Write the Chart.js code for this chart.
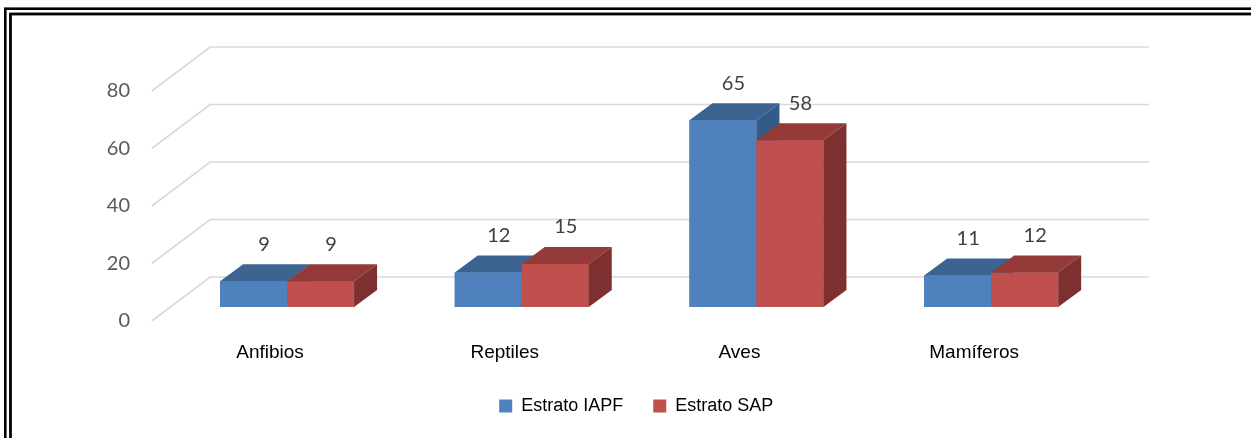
<!DOCTYPE html>
<html>
<head>
<meta charset="utf-8">
<script src="https://cdn.jsdelivr.net/npm/chart.js@4"></script>
<style>
  html, body { margin: 0; padding: 0; background: #ffffff; }
  #wrap { position: relative; width: 1251px; height: 438px; }
</style>
</head>
<body>
<div id="wrap"><canvas id="chart"></canvas></div>
<script>
// Species counts per taxonomic group and sampling stratum
const categories = ['Anfibios', 'Reptiles', 'Aves', 'Mamíferos'];
const seriesNames = ['Estrato IAPF', 'Estrato SAP'];
const iapfValues = [9, 12, 65, 11];
const sapValues = [9, 15, 58, 12];
const yMin = 0;
const yMax = 80;
const yStep = 20;

// Face colours: front, top, side
const palette = [
  { front: '#4F81BD', top: '#3D6491', side: '#345B87' },
  { front: '#C0504D', top: '#943B39', side: '#7D302F' }
];

// Oblique depth of a bar, and the wall/floor planes relative to the bar front plane
const DEPTH = { dx: 23, dy: -17 };
const WALL = { dx: 40.5, dy: -30 };      // back wall
const FLOOR_FRONT = { dx: -18, dy: 14 }; // front edge of the floor
const LEGEND_SHIFT = 82;

const perspectiveGrid = {
  id: 'perspectiveGrid',
  beforeDatasetsDraw(chart) {
    const { ctx, chartArea } = chart;
    const y = chart.scales.y;
    ctx.save();
    ctx.strokeStyle = '#D9D9D9';
    ctx.lineWidth = 1.6;
    y.ticks.forEach(t => {
      const py = y.getPixelForValue(t.value);
      ctx.beginPath();
      ctx.moveTo(chartArea.left + FLOOR_FRONT.dx, py + FLOOR_FRONT.dy);
      ctx.lineTo(chartArea.left + WALL.dx, py + WALL.dy);
      ctx.lineTo(chartArea.right + WALL.dx, py + WALL.dy);
      ctx.stroke();
    });
    ctx.restore();
  }
};

// Draws each bar as a box (front, top and right faces), series by series
// so that the right-hand bar of a pair covers the side of the left one.
const bars3d = {
  id: 'bars3d',
  afterDatasetsDraw(chart) {
    const { ctx } = chart;
    ctx.save();
    categories.forEach((_, j) => {
      chart.data.datasets.forEach((ds, i) => {
        const colors = palette[i];
        const bar = chart.getDatasetMeta(i).data[j];
        const { x, y, width, base } = bar.getProps(['x', 'y', 'width', 'base'], true);
        const l = x - width / 2, r = x + width / 2;
        ctx.fillStyle = colors.front;
        ctx.fillRect(l, y, width, base - y);
        ctx.fillStyle = colors.top;
        ctx.beginPath();
        ctx.moveTo(l, y);
        ctx.lineTo(r, y);
        ctx.lineTo(r + DEPTH.dx, y + DEPTH.dy);
        ctx.lineTo(l + DEPTH.dx, y + DEPTH.dy);
        ctx.closePath();
        ctx.fill();
        ctx.fillStyle = colors.side;
        ctx.beginPath();
        ctx.moveTo(r, y);
        ctx.lineTo(r + DEPTH.dx, y + DEPTH.dy);
        ctx.lineTo(r + DEPTH.dx, base + DEPTH.dy);
        ctx.lineTo(r, base);
        ctx.closePath();
        ctx.fill();
      });
    });
    // value labels above each box
    ctx.font = '20px Lato';
    ctx.fillStyle = '#404040';
    ctx.textAlign = 'center';
    ctx.textBaseline = 'middle';
    chart.data.datasets.forEach((ds, i) => {
      chart.getDatasetMeta(i).data.forEach((bar, j) => {
        ctx.fillText(String(ds.data[j]), bar.x + 10.5, bar.y - 37);
      });
    });
    ctx.restore();
  }
};

const legendOffset = {
  id: 'legendOffset',
  afterLayout(chart) {
    chart.legend.left += LEGEND_SHIFT;
    chart.legend.right += LEGEND_SHIFT;
  }
};

const frame = {
  id: 'frame',
  afterDraw(chart) {
    const { ctx, width, height } = chart;
    ctx.save();
    ctx.strokeStyle = '#000000';
    ctx.lineWidth = 2.6;
    ctx.strokeRect(5.3, 8.7, width + 20, height + 20);
    ctx.lineWidth = 2.8;
    ctx.strokeRect(10.5, 14, width + 20, height + 20);
    ctx.restore();
  }
};

new Chart(document.getElementById('chart'), {
  type: 'bar',
  data: {
    labels: categories,
    datasets: [
      { label: seriesNames[0], data: iapfValues, backgroundColor: palette[0].front },
      { label: seriesNames[1], data: sapValues, backgroundColor: palette[1].front }
    ]
  },
  options: {
    responsive: true,
    maintainAspectRatio: false,
    animation: false,
    events: [],
    layout: { padding: { top: 77, right: 142.5, bottom: 13, left: 0 } },
    datasets: {
      bar: { categoryPercentage: 0.571, barPercentage: 1, borderWidth: 0 }
    },
    scales: {
      x: {
        grid: { display: false },
        border: { display: false },
        ticks: {
          font: { family: 'Liberation Sans, Arial, sans-serif', size: 19 },
          color: '#000000',
          padding: 26.6,
          labelOffset: -17,
          maxRotation: 0,
          autoSkip: false
        },
        afterFit(scale) { scale.height = 60; }
      },
      y: {
        min: yMin,
        max: yMax,
        grid: { display: false },
        border: { display: false },
        ticks: {
          stepSize: yStep,
          font: { family: 'Lato', size: 20 },
          color: '#595959',
          padding: 31.7,
          labelOffset: 14
        },
        afterFit(scale) { scale.width = 169.7; }
      }
    },
    plugins: {
      tooltip: { enabled: false },
      legend: {
        position: 'bottom',
        labels: {
          font: { family: 'Liberation Sans, Arial, sans-serif', size: 18 },
          color: '#000000',
          boxWidth: 13,
          boxHeight: 13,
          padding: 30
        }
      }
    }
  },
  plugins: [perspectiveGrid, bars3d, legendOffset, frame]
});
</script>
</body>
</html>
